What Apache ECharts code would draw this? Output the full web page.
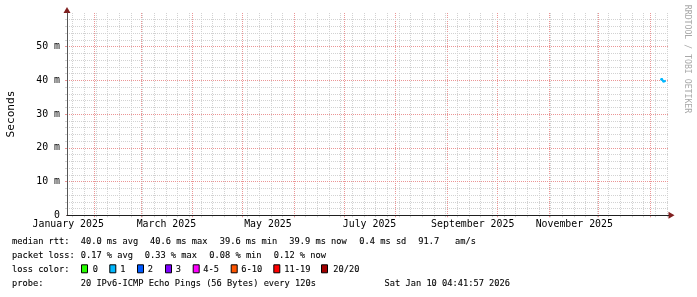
<!DOCTYPE html>
<html><head><meta charset="utf-8">
<script src="https://cdn.jsdelivr.net/npm/echarts@6/dist/echarts.min.js"></script>
<style>html,body{margin:0;padding:0;background:#fff}#c{width:697px;height:297px}</style>
</head><body><div id="c"></div>
<script>
// ---- data (x in days since 2025-01-01) ----
const xMin = 14.6, xMax = 375.9;
const monthStartDays = [31,59,90,120,151,181,212,243,273,304,334,365];
const weekStartDays = [18,25,32,39,46,53,60,67,74,81,88,95,102,109,116,123,130,137,144,151,158,165,172,179,186,193,200,207,214,221,228,235,242,249,256,263,270,277,284,291,298,305,312,319,326,333,340,347,354,361,368,375];
const xLabelDays = [15.3,74.3,135.3,196.3,258.3,319.3];
const xLabelNames = ['January 2025','March 2025','May 2025','July 2025','September 2025','November 2025'];
const yLabelValues = [0,10,20,30,40,50];
const yLabelNames = ['0','10 m','20 m','30 m','40 m','50 m'];
const yGridValues = [10,20,30,40,50];
const sampleDays = [371.3, 372.3, 373.3, 374.2];
const medianMs = [40.0, 40.6, 39.6, 39.9];
const smokeLowMs = [39.6, 39.5, 39.2, 39.5];
const smokeHighMs = [40.3, 41.8, 42.4, 40.6];
const rttRow = ['median rtt:','40.0 ms avg','40.6 ms max','39.6 ms min','39.9 ms now','0.4 ms sd','91.7','am/s'];
const lossRow = ['packet loss:','0.17 % avg','0.33 % max','0.08 % min','0.12 % now'];
const lossNames = ['0','1','2','3','4-5','6-10','11-19','20/20'];
const lossColors = ['#26ff00','#00b8ff','#0059ff','#7e00ff','#ff00ff','#ff5500','#ff0000','#a10000'];
const probeText = '20 IPv6-ICMP Echo Pings (56 Bytes) every 120s';
const dateText = 'Sat Jan 10 04:41:57 2026';

// ---- layout ----
const FONT = 'DejaVu Sans Mono';
const gridColor = '#d2d2d2';
const mGridColor = '#eb9595';
const arrowColor = '#801f1f';
const rttX = [12,80.7,150,219.7,289.3,359.3,418.3,455];
const lossX = [12,80.7,144.7,209.3,273.7];
const boxX = [81,109.3,137,165,192.7,230.7,273.3,321];
const boxTextX = [92.7,120.3,147.7,175.7,203.3,241.3,284.3,333.3];
const rowY = [241.7,255.7,269.3,283.3];
const LFS = 9.4, LSX = 5.24 / (9.4 * 0.602);

function txt(s, x, y, align) {
  return {type:'text', x:x, y:y, scaleX:LSX, scaleY:1, silent:true,
    style:{text:s, fontFamily:FONT, fontSize:LFS, fill:'#000', stroke:'#000', lineWidth:0.1,
      align:align||'left', verticalAlign:'middle'}};
}
const graphics = [];
rttRow.forEach((s,i)=>graphics.push(txt(s, rttX[i], rowY[0])));
lossRow.forEach((s,i)=>graphics.push(txt(s, lossX[i], rowY[1])));
graphics.push(txt('loss color:', 12, rowY[2]));
lossNames.forEach((s,i)=>{
  graphics.push({type:'rect', silent:true, shape:{x:boxX[i]+0.5, y:rowY[2]-4.5, width:6, height:8},
    style:{fill:lossColors[i], stroke:'#000', lineWidth:1}});
  graphics.push(txt(s, boxTextX[i], rowY[2]));
});
graphics.push(txt('probe:', 12, rowY[3]));
graphics.push(txt(probeText, 80.7, rowY[3]));
graphics.push(txt(dateText, 510, rowY[3], 'right'));
graphics.push({type:'text', x:11, y:114, rotation:Math.PI/2, silent:true,
  style:{text:'Seconds', fontFamily:FONT, fontSize:11.2, fill:'#000', align:'center', verticalAlign:'middle'}});
graphics.push({type:'text', x:687, y:59, rotation:-Math.PI/2, silent:true,
  style:{text:'RRDTOOL / TOBI OETIKER', fontFamily:FONT, fontSize:8.2, fill:'#a8a8a8', align:'center', verticalAlign:'middle'}});

const chart = echarts.init(document.getElementById('c'), null, {renderer:'canvas', width:697, height:297});
chart.setOption({
  animation:false,
  backgroundColor:'#ffffff',
  grid:{left:67, right:28.5, top:13, bottom:81.7, containLabel:false},
  xAxis:[
    {type:'value', min:xMin, max:xMax, position:'bottom', z:2,
     axisLine:{show:true, onZero:false, lineStyle:{color:'#1f1f1f', width:1}},
     axisTick:{show:false}, splitLine:{show:false},
     axisLabel:{show:true, customValues:xLabelDays, margin:4, fontFamily:FONT, fontSize:9.9, color:'#000',
       formatter:(v)=>{const i = xLabelDays.findIndex(d=>Math.abs(d-v)<0.01); return i>=0?xLabelNames[i]:'';}}},
    {type:'value', min:xMin, max:xMax, position:'bottom', z:1,
     axisLine:{show:false},
     axisTick:{show:true, customValues:monthStartDays, length:2, lineStyle:{color:mGridColor}},
     splitLine:{show:true, lineStyle:{color:mGridColor, type:[1,1], width:1}},
     axisLabel:{show:false}},
    {type:'value', min:xMin, max:xMax, position:'bottom', z:0,
     axisLine:{show:true, onZero:false, symbol:['none','triangle'], symbolSize:[7,6], symbolOffset:[0,3], lineStyle:{color:arrowColor, width:1}},
     axisTick:{show:true, customValues:weekStartDays, length:2, lineStyle:{color:gridColor}},
     splitLine:{show:true, lineStyle:{color:gridColor, type:[1,1], width:1}},
     axisLabel:{show:false}}
  ],
  yAxis:[
    {type:'value', min:0, max:60, interval:10, position:'left', z:2,
     axisLine:{show:true, onZero:false, lineStyle:{color:'#555', width:1}},
     axisTick:{show:false},
     minorTick:{show:true, splitNumber:5, length:2, lineStyle:{color:gridColor}},
     splitLine:{show:false},
     minorSplitLine:{show:true, lineStyle:{color:gridColor, type:[1,1], width:1}},
     axisLabel:{show:true, customValues:yLabelValues, margin:7, fontFamily:FONT, fontSize:9.9, color:'#000',
       formatter:(v)=>{const i = yLabelValues.indexOf(v); return i>=0?yLabelNames[i]:'';}}},
    {type:'value', min:0, max:60, position:'left', z:1,
     axisLine:{show:true, onZero:false, symbol:['none','triangle'], symbolSize:[7,6], symbolOffset:[0,3], lineStyle:{color:arrowColor, width:1}},
     axisTick:{show:true, customValues:yGridValues, length:2, lineStyle:{color:mGridColor}},
     splitLine:{show:true, lineStyle:{color:mGridColor, type:[1,1], width:1}},
     axisLabel:{show:false}}
  ],
  series:[
    {type:'line', xAxisIndex:0, yAxisIndex:0, stack:'smoke', symbol:'none', z:3, step:'middle',
     data:sampleDays.map((d,i)=>[d, smokeLowMs[i]]), lineStyle:{opacity:0}, areaStyle:{opacity:0}},
    {type:'line', xAxisIndex:0, yAxisIndex:0, stack:'smoke', symbol:'none', z:3, step:'middle',
     data:sampleDays.map((d,i)=>[d, smokeHighMs[i]-smokeLowMs[i]]), lineStyle:{opacity:0}, areaStyle:{color:'#9a9a9a', opacity:1}},
    {type:'line', xAxisIndex:0, yAxisIndex:0, symbol:'none', step:'middle', z:4,
     data:sampleDays.map((d,i)=>[d, medianMs[i]]), lineStyle:{color:lossColors[1], width:2}}
  ],
  graphic:graphics
});
</script></body></html>
